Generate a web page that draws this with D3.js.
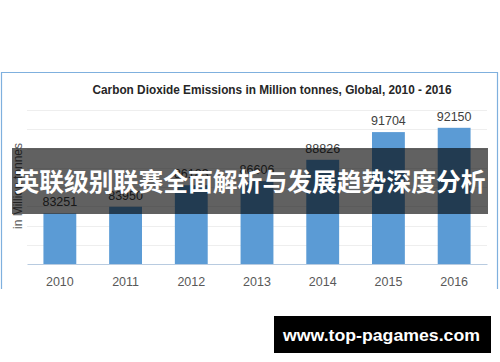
<!DOCTYPE html>
<html>
<head>
<meta charset="utf-8">
<script src="https://cdn.jsdelivr.net/npm/d3@7"></script>
<style>
html,body{margin:0;padding:0;background:#fff;}
svg{display:block;}
</style>
</head>
<body>
<svg id="chart" width="500" height="362"></svg>
<script>
const years = ["2010","2011","2012","2013","2014","2015","2016"];
const emissions = [83251, 83950, 86183, 86606, 88826, 91704, 92150];
const gridTicks = [78000, 80000, 82000, 84000, 86000, 88000, 90000, 92000, 94000];
const titleText = "Carbon Dioxide Emissions in Million tonnes, Global, 2010 - 2016";
const yTitle = "in Million tonnes";
const bannerText = "英联级别联赛全面解析与发展趋势深度分析";
const watermark = "www.top-pagames.com";

const svg = d3.select("#chart");
const font = "'Liberation Sans', Arial, sans-serif";

// chart frame (bottom is cropped)
svg.append("path")
  .attr("d", "M1.5,289 V72.5 H497.5 V289")
  .attr("fill", "none").attr("stroke", "#7fb0de").attr("stroke-width", 1.2);

const x = d3.scaleBand().domain(years).range([27, 487]).paddingInner(0.5).paddingOuter(0.25);
const y = d3.scaleLinear().domain([78000, 94000]).range([264, 110]);

// gridlines
svg.append("g").selectAll("line").data(gridTicks.slice(1)).join("line")
  .attr("x1", 27).attr("x2", 487)
  .attr("y1", d => Math.round(y(d)) + 0.5).attr("y2", d => Math.round(y(d)) + 0.5)
  .attr("stroke", "#eeeeee").attr("stroke-width", 1);

// title
svg.append("text").attr("x", 272).attr("y", 94)
  .attr("text-anchor", "middle")
  .attr("font-family", font).attr("font-weight", "bold").attr("font-size", 13)
  .attr("textLength", 359).attr("lengthAdjust", "spacingAndGlyphs")
  .attr("fill", "#262626").text(titleText);

// bars
svg.append("g").selectAll("rect").data(years).join("rect")
  .attr("x", d => x(d)).attr("width", x.bandwidth())
  .attr("y", (d, i) => y(emissions[i]))
  .attr("height", (d, i) => y(78000) - y(emissions[i]))
  .attr("fill", "#5b9bd5");

// baseline axis
svg.append("g").attr("transform", "translate(0,264)")
  .call(d3.axisBottom(x).tickSize(0).tickPadding(13))
  .call(g => g.select(".domain").attr("stroke", "#b8cbe0").attr("d", "M27.5,0.5H487.5"))
  .call(g => g.selectAll("text").attr("font-family", font).attr("font-size", 12.5).attr("fill", "#595959"));

// data labels
svg.append("g").selectAll("text").data(years).join("text")
  .attr("x", d => x(d) + x.bandwidth() / 2)
  .attr("y", (d, i) => y(emissions[i]) - 7)
  .attr("text-anchor", "middle")
  .attr("font-family", font).attr("font-size", 12.5).attr("fill", "#404040")
  .text((d, i) => emissions[i]);

// y title
svg.append("text").attr("transform", "translate(22,186) rotate(-90)")
  .attr("text-anchor", "middle")
  .attr("font-family", font).attr("font-size", 12).attr("fill", "#595959")
  .text(yTitle);

// banner overlay
svg.append("rect").attr("x", 12).attr("y", 148).attr("width", 476).attr("height", 66)
  .attr("fill", "rgba(0,0,0,0.62)");
svg.append("text").attr("x", 250).attr("y", 191)
  .attr("text-anchor", "middle")
  .attr("font-family", "'Noto Sans CJK SC', sans-serif").attr("font-weight", "bold").attr("font-size", 24.8)
  .attr("fill", "#ffffff").text(bannerText);

// watermark
svg.append("rect").attr("x", 274).attr("y", 316).attr("width", 217).attr("height", 37).attr("fill", "#000");
svg.append("text").attr("x", 381.5).attr("y", 341)
  .attr("text-anchor", "middle")
  .attr("font-family", font).attr("font-weight", "bold").attr("font-size", 17)
  .attr("textLength", 197).attr("lengthAdjust", "spacingAndGlyphs")
  .attr("fill", "#fff").text(watermark);
</script>
</body>
</html>
